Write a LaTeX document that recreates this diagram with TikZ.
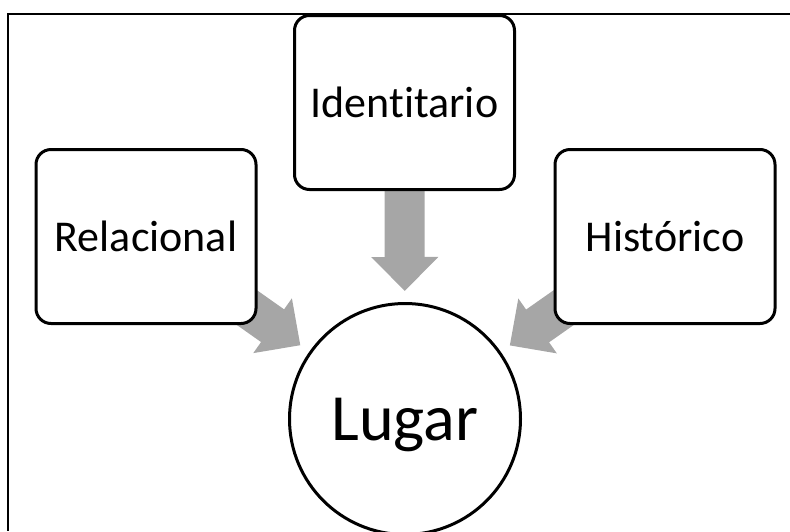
\documentclass[tikz,border=0pt]{standalone}
\usepackage{fontspec}
\setmainfont[Ligatures={NoCommon}]{Carlito}
\usetikzlibrary{arrows.meta,backgrounds}
\definecolor{arrowgray}{HTML}{A6A6A6}
\begin{document}
\begin{tikzpicture}[
    x=1pt, y=-1pt,
    conceptbox/.style={rectangle, draw, fill=white, line width=3pt, rounded corners=15pt, minimum width=220pt, minimum height=174pt, inner sep=0pt, font=\fontsize{44}{53}\selectfont},
    placecircle/.style={circle, draw, fill=white, line width=3pt, minimum size=231pt, inner sep=0pt, text depth=0pt, font=\fontsize{66}{79}\selectfont},
    bigarrow/.style={-{Triangle[width=65pt,length=34pt]}, line width=40pt, draw=arrowgray, shorten >=11pt}
]
    \clip (0,0) rectangle (790,531);
    \draw[line width=2pt] (790,13.5) -- (7.5,13.5) -- (7.5,531);

    \node[conceptbox] (iden) at (404.5,102.5) {Ident\kern0pt itario};
    \node[conceptbox] (rel) at (146,236.5) {Relacional};
    \node[conceptbox] (hist) at (665,236.5) {Histórico};
    \node[placecircle] (lugar) at (405,419) {Lugar};

    % arrows start inside the boxes, boxes hide the shaft
    \begin{scope}[on background layer]
        \draw[bigarrow] (iden.center) -- (lugar);
        \draw[bigarrow] (rel.center) -- (lugar);
        \draw[bigarrow] (hist.center) -- (lugar);
    \end{scope}
\end{tikzpicture}
\end{document}
